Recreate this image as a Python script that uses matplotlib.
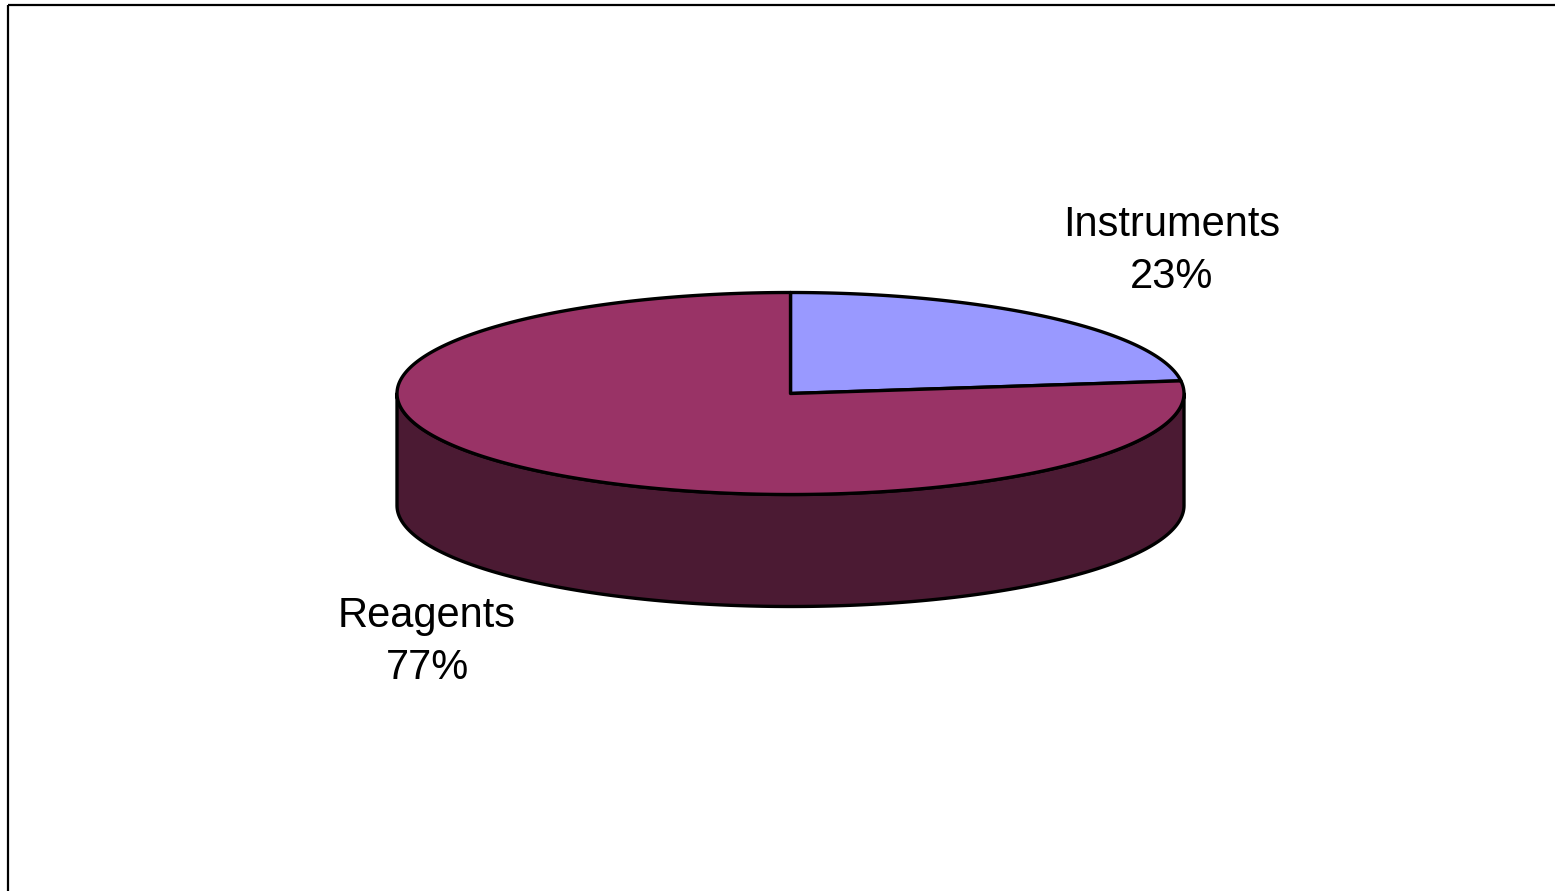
import numpy as np
import matplotlib
matplotlib.use("Agg")
import matplotlib.pyplot as plt
from matplotlib.patches import Polygon

# ---- data ----
categories = ["Instruments", "Reagents"]
values = [23, 77]
top_colors = ["#9999FF", "#993366"]
side_colors = ["#3D1530", "#4B1A33"]

# ---- layout (pixels) ----
W, H = 1555, 891
cx, cy = 790.5, 393.5      # centre of top ellipse
a, b = 393.5, 101.0        # radii of top ellipse
depth = 112.0              # height of extrusion
label_pos = {"Instruments": (1172, 251), "Reagents": (427, 642)}

plt.rcParams['font.family'] = ['Liberation Sans', 'DejaVu Sans']

fig = plt.figure(figsize=(W / 100, H / 100), dpi=100)
ax = fig.add_axes([0, 0, 1, 1])
ax.set_xlim(0, W)
ax.set_ylim(H, 0)
ax.axis('off')


def pt(t_deg, dy=0.0):
    t = np.radians(t_deg)
    return cx + a * np.cos(t), cy - b * np.sin(t) + dy


total = float(sum(values))
angles = []
start = 90.0
for v in values:
    sweep = 360.0 * v / total
    angles.append((start - sweep, start))  # clockwise from 12 o'clock
    start -= sweep

# ---- sides (only front half, 180..360 deg, visible) ----
for (t0, t1), sc in zip(angles, side_colors):
    segs = []
    for off in (-360, 0, 360):
        lo, hi = max(t0 + off, 180), min(t1 + off, 360)
        if hi > lo:
            segs.append((lo, hi))
    for lo, hi in segs:
        ts = np.linspace(lo, hi, 200)
        top = [pt(t) for t in ts]
        bot = [pt(t, depth) for t in ts[::-1]]
        poly = Polygon(top + bot, closed=True, facecolor=sc, edgecolor='black',
                       linewidth=2.4, joinstyle='round', zorder=2)
        ax.add_patch(poly)

# ---- top faces ----
for (t0, t1), tc in zip(angles, top_colors):
    ts = np.linspace(t0, t1, 300)
    verts = [(cx, cy)] + [pt(t) for t in ts]
    poly = Polygon(verts, closed=True, facecolor=tc, edgecolor='black',
                   linewidth=2.4, joinstyle='round', zorder=3)
    ax.add_patch(poly)

# ---- labels ----
for cat, v in zip(categories, values):
    x, y = label_pos[cat]
    ax.text(x, y, f"{cat}\n{round(100 * v / total)}%", ha='center', va='center',
            fontsize=30, linespacing=1.4, color='black', zorder=5)

# ---- chart border (left and top) ----
ax.plot([8, 8], [H, 5], color='black', linewidth=1.6, solid_capstyle='butt', zorder=6)
ax.plot([8, W], [5, 5], color='black', linewidth=1.6, solid_capstyle='butt', zorder=6)

fig.savefig("out.png", dpi=100)
